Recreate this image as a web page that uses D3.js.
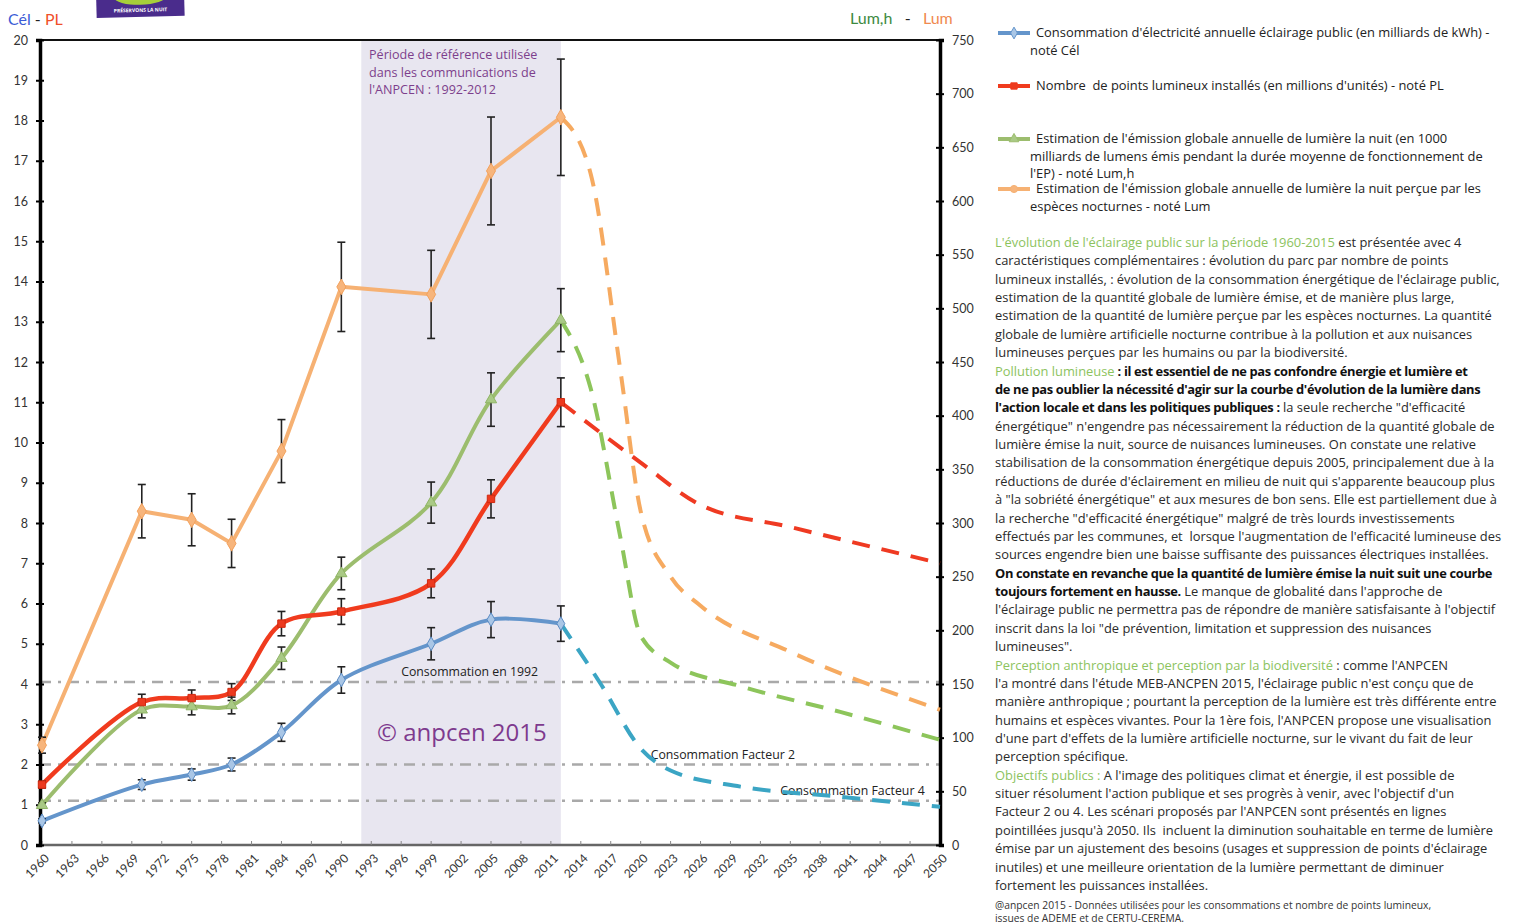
<!DOCTYPE html>
<html lang="fr">
<head>
<meta charset="utf-8">
<title>Éclairage public 1960-2050</title>
<script src="https://cdn.jsdelivr.net/npm/d3@7"></script>
<style>
  html, body { margin: 0; padding: 0; background: #fff; }
  svg { display: block; font-family: "Open Sans", Lato, sans-serif; }
</style>
</head>
<body>
<svg id="chart" width="1515" height="924"></svg>
<script>
// ---- Observed data (1960-2012) ----
const yearsObs = [1960, 1970, 1975, 1979, 1984, 1990, 1999, 2005, 2012];
const celObs  = [0.6, 1.5, 1.75, 2.0, 2.8, 4.1, 5.0, 5.6, 5.5];        // milliards de kWh
const plObs   = [1.5, 3.55, 3.65, 3.8, 5.5, 5.8, 6.5, 8.6, 11.0];      // millions de points
const lumhObs = [37, 126, 129, 130, 174, 253, 319, 415, 489];          // Lum,h (axe droit)
const lumObs  = [93, 311, 303, 281, 367, 520, 513, 628, 678];          // Lum (axe droit)

// relative error bars per series
const celErr = 0.08, plErr = 0.055, lumhErr = 0.06, lumErr = 0.08;

// ---- Scenarios up to 2050 ----
const celProjYears  = [2012, 2016, 2020, 2023, 2030, 2040, 2050];
const celProj       = [5.5, 4.0, 2.4, 1.85, 1.45, 1.2, 0.95];
const plProjYears   = [2012, 2020, 2026, 2035, 2050];
const plProj        = [11.0, 9.5, 8.45, 7.9, 7.0];
const lumhProjYears = [2012, 2015, 2018, 2020, 2023, 2030, 2040, 2050];
const lumhProj      = [489, 425, 285, 195, 170, 148, 124, 98];
const lumProjYears  = [2012, 2015, 2018, 2020, 2023, 2026, 2035, 2050];
const lumProj       = [678, 625, 440, 311, 250, 223, 180, 126];

// ---- Reference consumption levels (left axis) ----
const refValues = [4.05, 2.0, 1.1];
const refLabels = ["Consommation en 1992", "Consommation Facteur 2", "Consommation Facteur 4"];
const refPeriod = [1992, 2012];

// ---- Axis ticks ----
const xTickYears = d3.range(1960, 2051, 3);
const leftTicks = d3.range(0, 21, 1);
const rightTicks = d3.range(0, 751, 50);

const svg = d3.select("#chart");

const x = d3.scaleLinear().domain([1960, 2050]).range([42, 940]);
const yL = d3.scaleLinear().domain([0, 20]).range([845, 40]);
const yR = d3.scaleLinear().domain([0, 750]).range([845, 40]);

const colors = {
  cel: "#6495cb", celDash: "#3ba5c4",
  pl: "#f03b1e", plDash: "#ef3a22",
  lumh: "#9cbd6e", lumhDash: "#8dc55b",
  lum: "#f6b173", lumDash: "#f6aa60"
};

// shaded reference period
svg.append("rect")
  .attr("x", x(refPeriod[0])).attr("y", 40)
  .attr("width", x(refPeriod[1]) - x(refPeriod[0]))
  .attr("height", 805)
  .attr("fill", "#e8e6f0");

// reference lines
refValues.forEach(v => {
  svg.append("line")
    .attr("x1", 40).attr("x2", 940)
    .attr("y1", yL(v)).attr("y2", yL(v))
    .attr("stroke", "#a9a9a9").attr("stroke-width", 2.5)
    .attr("stroke-dasharray", "11,7,3,7");
});

// frame: top line, bottom axis, left & right axes
svg.append("line").attr("x1", 40).attr("x2", 940).attr("y1", 40).attr("y2", 40)
  .attr("stroke", "#111").attr("stroke-width", 2);
svg.append("line").attr("x1", 40).attr("x2", 940).attr("y1", 845).attr("y2", 845)
  .attr("stroke", "#666").attr("stroke-width", 2.5);

const gx = svg.append("g").attr("transform", "translate(0,845)");
gx.selectAll("line.tick").data(xTickYears).join("line")
  .attr("x1", d => x(d)).attr("x2", d => x(d)).attr("y1", 0).attr("y2", -4)
  .attr("stroke", "#888").attr("stroke-width", 1);
gx.selectAll("text").data(xTickYears).join("text")
  .attr("transform", d => `translate(${x(d) + 5},11) rotate(-45)`)
  .attr("text-anchor", "end").attr("dy", "0.35em")
  .attr("font-size", 12).attr("fill", "#333").attr("font-family", "Lato, sans-serif")
  .text(d => d);

const gl = svg.append("g").attr("transform", "translate(40,0)")
  .call(d3.axisLeft(yL).tickValues(leftTicks).tickSize(4).tickPadding(8));
const gr = svg.append("g").attr("transform", "translate(940,0)")
  .call(d3.axisRight(yR).tickValues(rightTicks).tickSize(4).tickPadding(8));
[gl, gr].forEach(g => {
  g.select(".domain").attr("stroke", "#000").attr("stroke-width", 3.5);
  g.selectAll(".tick line").attr("stroke", "#000").attr("stroke-width", 2);
  g.selectAll(".tick text").attr("font-size", 12.5).attr("fill", "#333").attr("font-family", "Lato, sans-serif");
});
// inner half of the cross ticks
gl.selectAll(".tick").append("line").attr("x2", 4).attr("stroke", "#000").attr("stroke-width", 2);
gr.selectAll(".tick").append("line").attr("x2", -4).attr("stroke", "#000").attr("stroke-width", 2);

// reference labels
const refLabelYears = [1996, 2021, 2034];
refLabels.forEach((t, i) => {
  svg.append("text")
    .attr("x", x(refLabelYears[i])).attr("y", yL(refValues[i]) - 6)
    .attr("font-size", 12.3).attr("fill", "#222").text(t);
});

// period annotation
const periodText = ["Période de référence utilisée", "dans les communications de", "l'ANPCEN : 1992-2012"];
svg.append("text").attr("x", 369).attr("y", 59)
  .attr("font-size", 12.6).attr("fill", "#7d3f8c")
  .selectAll("tspan").data(periodText).join("tspan")
  .attr("x", 369).attr("dy", (d, i) => i ? 17.5 : 0).text(d => d);

svg.append("text").attr("x", 377).attr("y", 741)
  .attr("font-size", 24).attr("fill", "#7e3a8e").text("© anpcen 2015");

// ---- Series drawing ----
const lineSmooth = d3.line().curve(d3.curveCatmullRom.alpha(0.5));
const lineStraight = d3.line();
const lineDash = d3.line().curve(d3.curveMonotoneX);

function series(years, vals, y, color, width, gen) {
  svg.append("path")
    .attr("d", gen(years.map((yr, i) => [x(yr), y(vals[i])])))
    .attr("fill", "none").attr("stroke", color).attr("stroke-width", width)
    .attr("stroke-linejoin", "round").attr("stroke-linecap", "round");
}
function projection(years, vals, y, color) {
  svg.append("path")
    .attr("d", lineDash(years.map((yr, i) => [x(yr), y(vals[i])])))
    .attr("fill", "none").attr("stroke", color).attr("stroke-width", 4)
    .attr("stroke-dasharray", "18,12");
}
function errorBars(years, vals, y, rel) {
  const g = svg.append("g").attr("stroke", "#222").attr("stroke-width", 1.6);
  years.forEach((yr, i) => {
    const cx = x(yr), lo = y(vals[i] * (1 - rel)), hi = y(vals[i] * (1 + rel));
    g.append("line").attr("x1", cx).attr("x2", cx).attr("y1", lo).attr("y2", hi);
    g.append("line").attr("x1", cx - 4).attr("x2", cx + 4).attr("y1", lo).attr("y2", lo);
    g.append("line").attr("x1", cx - 4).attr("x2", cx + 4).attr("y1", hi).attr("y2", hi);
  });
}
function markers(years, vals, y, symbolType, size, fill, stroke) {
  svg.append("g").selectAll("path").data(years).join("path")
    .attr("transform", (d, i) => `translate(${x(d)},${y(vals[i])})`)
    .attr("d", d3.symbol().type(symbolType).size(size))
    .attr("fill", fill).attr("stroke", stroke).attr("stroke-width", 1);
}

// projections (dashed) behind observed curves
projection(celProjYears, celProj, yL, colors.celDash);
projection(plProjYears, plProj, yL, colors.plDash);
projection(lumhProjYears, lumhProj, yR, colors.lumhDash);
projection(lumProjYears, lumProj, yR, colors.lumDash);

series(yearsObs, lumObs, yR, colors.lum, 4, lineStraight);
series(yearsObs, lumhObs, yR, colors.lumh, 4, lineSmooth);
series(yearsObs, plObs, yL, colors.pl, 4.5, lineSmooth);
series(yearsObs, celObs, yL, colors.cel, 4, lineSmooth);

errorBars(yearsObs, lumObs, yR, lumErr);
errorBars(yearsObs, lumhObs, yR, lumhErr);
errorBars(yearsObs, plObs, yL, plErr);
errorBars(yearsObs, celObs, yL, celErr);

markers(yearsObs, lumObs, yR, d3.symbolDiamond, 70, "#f7b57c", "#f3a15c");
markers(yearsObs, lumhObs, yR, d3.symbolTriangle, 55, "#a9c985", "#8fb565");
markers(yearsObs, plObs, yL, d3.symbolSquare, 55, "#ec3a1f", "#d02a10");
markers(yearsObs, celObs, yL, d3.symbolDiamond, 55, "#a9c6e6", "#5b8bc3");

// ---- Axis titles ----
const tl = svg.append("text").attr("x", 8).attr("y", 25).attr("font-size", 16)
  .attr("font-family", "Lato, sans-serif").attr("xml:space", "preserve");
tl.append("tspan").attr("fill", "#3b5bd6").text("Cél");
tl.append("tspan").attr("fill", "#222").text(" - ");
tl.append("tspan").attr("fill", "#f0502a").text("PL");

const tr = svg.append("text").attr("x", 850).attr("y", 24).attr("font-size", 16)
  .attr("font-family", "Lato, sans-serif").attr("xml:space", "preserve");
tr.append("tspan").attr("fill", "#3d8a3f").text("Lum,h");
tr.append("tspan").attr("fill", "#222").text("   -   ");
tr.append("tspan").attr("fill", "#f08a50").text("Lum");

// ---- Logo ----
const logo = svg.append("g").attr("transform", "translate(96,-8) rotate(-1.5)");
logo.append("rect").attr("width", 88).attr("height", 26).attr("fill", "#4a2c8c");
logo.append("ellipse").attr("cx", 44).attr("cy", 6).attr("rx", 26).attr("ry", 8).attr("fill", "#a6cf3a");
logo.append("text").attr("x", 44).attr("y", 21).attr("text-anchor", "middle")
  .attr("font-size", 5).attr("font-weight", "bold").attr("fill", "#fff").text("PRÉSERVONS LA NUIT");

// ---- Legend ----
const legendItems = [
  { color: colors.cel, sym: d3.symbolDiamond, fill: "#a9c6e6", y: 33,
    lines: ["Consommation d'électricité annuelle éclairage public (en milliards de kWh) -", "noté Cél"] },
  { color: colors.pl, sym: d3.symbolSquare, fill: "#ec3a1f", y: 86,
    lines: ["Nombre  de points lumineux installés (en millions d'unités) - noté PL"] },
  { color: colors.lumh, sym: d3.symbolTriangle, fill: "#a9c985", y: 139,
    lines: ["Estimation de l'émission globale annuelle de lumière la nuit (en 1000",
            "milliards de lumens émis pendant la durée moyenne de fonctionnement de",
            "l'EP) - noté Lum,h"] },
  { color: colors.lum, sym: d3.symbolCircle, fill: "#f7b57c", y: 189,
    lines: ["Estimation de l'émission globale annuelle de lumière la nuit perçue par les",
            "espèces nocturnes - noté Lum"] }
];
const lg = svg.append("g");
legendItems.forEach(it => {
  lg.append("line").attr("x1", 998).attr("x2", 1030).attr("y1", it.y).attr("y2", it.y)
    .attr("stroke", it.color).attr("stroke-width", 4);
  lg.append("path").attr("transform", `translate(1014,${it.y})`)
    .attr("d", d3.symbol().type(it.sym).size(40)).attr("fill", it.fill).attr("stroke", it.color);
  const t = lg.append("text").attr("font-size", 12.9).attr("fill", "#222").attr("xml:space", "preserve");
  it.lines.forEach((l, i) => {
    t.append("tspan").attr("x", i ? 1030 : 1036).attr("y", it.y + 4 + i * 17.5).text(l);
  });
});

// ---- Commentary ----
const G = "g", B = "b", N = "n";
const paragraphLines = [
  [[G, "L'évolution de l'éclairage public sur la période 1960-2015"], [N, " est présentée avec 4"]],
  [[N, "caractéristiques complémentaires : évolution du parc par nombre de points"]],
  [[N, "lumineux installés, : évolution de la consommation énergétique de l'éclairage public,"]],
  [[N, "estimation de la quantité globale de lumière émise, et de manière plus large,"]],
  [[N, "estimation de la quantité de lumière perçue par les espèces nocturnes. La quantité"]],
  [[N, "globale de lumière artificielle nocturne contribue à la pollution et aux nuisances"]],
  [[N, "lumineuses perçues par les humains ou par la biodiversité."]],
  [[G, "Pollution lumineuse"], [B, " : il est essentiel de ne pas confondre énergie et lumière et"]],
  [[B, "de ne pas oublier la nécessité d'agir sur la courbe d'évolution de la lumière dans"]],
  [[B, "l'action locale et dans les politiques publiques :"], [N, " la seule recherche \"d'efficacité"]],
  [[N, "énergétique\" n'engendre pas nécessairement la réduction de la quantité globale de"]],
  [[N, "lumière émise la nuit, source de nuisances lumineuses. On constate une relative"]],
  [[N, "stabilisation de la consommation énergétique depuis 2005, principalement due à la"]],
  [[N, "réductions de durée d'éclairement en milieu de nuit qui s'apparente beaucoup plus"]],
  [[N, "à \"la sobriété énergétique\" et aux mesures de bon sens. Elle est partiellement due à"]],
  [[N, "la recherche \"d'efficacité énergétique\" malgré de très lourds investissements"]],
  [[N, "effectués par les communes, et  lorsque l'augmentation de l'efficacité lumineuse des"]],
  [[N, "sources engendre bien une baisse suffisante des puissances électriques installées."]],
  [[B, "On constate en revanche que la quantité de lumière émise la nuit suit une courbe"]],
  [[B, "toujours fortement en hausse."], [N, " Le manque de globalité dans l'approche de"]],
  [[N, "l'éclairage public ne permettra pas de répondre de manière satisfaisante à l'objectif"]],
  [[N, "inscrit dans la loi \"de prévention, limitation et suppression des nuisances"]],
  [[N, "lumineuses\"."]],
  [[G, "Perception anthropique et perception par la biodiversité"], [N, " : comme l'ANPCEN"]],
  [[N, "l'a montré dans l'étude MEB-ANCPEN 2015, l'éclairage public n'est conçu que de"]],
  [[N, "manière anthropique ; pourtant la perception de la lumière est très différente entre"]],
  [[N, "humains et espèces vivantes. Pour la 1ère fois, l'ANPCEN propose une visualisation"]],
  [[N, "d'une part d'effets de la lumière artificielle nocturne, sur le vivant du fait de leur"]],
  [[N, "perception spécifique."]],
  [[G, "Objectifs publics :"], [N, " A l'image des politiques climat et énergie, il est possible de"]],
  [[N, "situer résolument l'action publique et ses progrès à venir, avec l'objectif d'un"]],
  [[N, "Facteur 2 ou 4. Les scénari proposés par l'ANPCEN sont présentés en lignes"]],
  [[N, "pointillées jusqu'à 2050. Ils  incluent la diminution souhaitable en terme de lumière"]],
  [[N, "émise par un ajustement des besoins (usages et suppression de points d'éclairage"]],
  [[N, "inutiles) et une meilleure orientation de la lumière permettant de diminuer"]],
  [[N, "fortement les puissances installées."]]
];
const sourceLines = [
  "@anpcen 2015 - Données utilisées pour les consommations et nombre de points lumineux,",
  "issues de ADEME et de CERTU-CEREMA."
];

const styleFor = {
  g: { fill: "#8cc35e", weight: "normal", spacing: 0 },
  b: { fill: "#111", weight: "bold", spacing: -0.35 },
  n: { fill: "#2a2a2a", weight: "normal", spacing: 0 }
};
const tg = svg.append("g").attr("font-size", 12.9);
paragraphLines.forEach((segs, i) => {
  const t = tg.append("text").attr("x", 995).attr("y", 247 + i * 18.37).attr("xml:space", "preserve");
  segs.forEach(([s, txt]) => {
    t.append("tspan").attr("fill", styleFor[s].fill).attr("font-weight", styleFor[s].weight)
      .attr("letter-spacing", styleFor[s].spacing).text(txt);
  });
});
sourceLines.forEach((l, i) => {
  svg.append("text").attr("x", 995).attr("y", 909 + i * 12.5)
    .attr("font-size", 10.3).attr("fill", "#333").text(l);
});
</script>
</body>
</html>
